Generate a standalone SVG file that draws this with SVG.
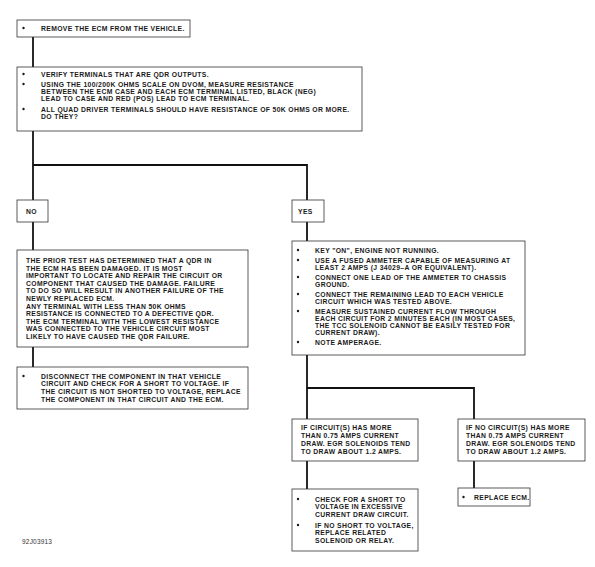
<svg xmlns="http://www.w3.org/2000/svg" width="595" height="567" viewBox="0 0 595 567">
<style>
.box{fill:#fff;stroke:#333;stroke-width:0.8}
.t{font-family:"Liberation Sans",Arial,sans-serif;font-weight:bold;font-size:6.8px;letter-spacing:0.35px;fill:#1a1a1a}
.s{font-family:"Liberation Sans",Arial,sans-serif;font-size:6.5px;letter-spacing:0.2px;fill:#333}
.c{fill:none;stroke:#111;stroke-width:1.8}
.b{fill:#1a1a1a}
</style>
<rect width="595" height="567" fill="#fff"/>
<g id="connectors">
<path class="c" d="M33,37 V67"/>
<path class="c" d="M33,131 V250"/>
<path class="c" d="M33,165 H307 V241"/>
<path class="c" d="M33,347 V367"/>
<path class="c" d="M307,355 V419"/>
<path class="c" d="M307,388 H474 V419"/>
<path class="c" d="M307,461 V489"/>
<path class="c" d="M474,461 V488"/>
</g>
<g id="n1">
<rect class="box" x="17" y="20" width="173" height="17"/>
<circle class="b" cx="23.5" cy="28" r="1.2"/>
<text class="t" x="41" y="30.5">REMOVE THE ECM FROM THE VEHICLE.</text>
</g>
<g id="n2">
<rect class="box" x="17" y="67" width="345" height="64"/>
<circle class="b" cx="23.5" cy="74" r="1.2"/>
<circle class="b" cx="23.5" cy="84" r="1.2"/>
<circle class="b" cx="23.5" cy="109" r="1.2"/>
<text class="t" x="41" y="76.5">VERIFY TERMINALS THAT ARE QDR OUTPUTS.</text>
<text class="t" x="41" y="86.5">USING THE 100/200K OHMS SCALE ON DVOM, MEASURE RESISTANCE</text>
<text class="t" x="41" y="93.5">BETWEEN THE ECM CASE AND EACH ECM TERMINAL LISTED, BLACK (NEG)</text>
<text class="t" x="41" y="100.5">LEAD TO CASE AND RED (POS) LEAD TO ECM TERMINAL.</text>
<text class="t" x="41" y="111.5">ALL QUAD DRIVER TERMINALS SHOULD HAVE RESISTANCE OF 50K OHMS OR MORE.</text>
<text class="t" x="41" y="118.5">DO THEY?</text>
</g>
<g id="no">
<rect class="box" x="17" y="200" width="31" height="22"/>
<text class="t" x="26" y="213.5">NO</text>
</g>
<g id="yes">
<rect class="box" x="292" y="200" width="32" height="22"/>
<text class="t" x="298" y="213.5">YES</text>
</g>
<g id="n3">
<rect class="box" x="17" y="250" width="231" height="97"/>
<text class="t" x="26" y="263">THE PRIOR TEST HAS DETERMINED THAT A QDR IN</text>
<text class="t" x="26" y="270.6">THE ECM HAS BEEN DAMAGED. IT IS MOST</text>
<text class="t" x="26" y="278.2">IMPORTANT TO LOCATE AND REPAIR THE CIRCUIT OR</text>
<text class="t" x="26" y="285.8">COMPONENT THAT CAUSED THE DAMAGE. FAILURE</text>
<text class="t" x="26" y="293.4">TO DO SO WILL RESULT IN ANOTHER FAILURE OF THE</text>
<text class="t" x="26" y="301">NEWLY REPLACED ECM.</text>
<text class="t" x="26" y="308.6">ANY TERMINAL WITH LESS THAN 50K OHMS</text>
<text class="t" x="26" y="316.2">RESISTANCE IS CONNECTED TO A DEFECTIVE QDR.</text>
<text class="t" x="26" y="323.8">THE ECM TERMINAL WITH THE LOWEST RESISTANCE</text>
<text class="t" x="26" y="331.4">WAS CONNECTED TO THE VEHICLE CIRCUIT MOST</text>
<text class="t" x="26" y="339">LIKELY TO HAVE CAUSED THE QDR FAILURE.</text>
</g>
<g id="n4">
<rect class="box" x="17" y="367" width="231" height="42"/>
<circle class="b" cx="23.5" cy="376" r="1.2"/>
<text class="t" x="41" y="378.5">DISCONNECT THE COMPONENT IN THAT VEHICLE</text>
<text class="t" x="41" y="386.2">CIRCUIT AND CHECK FOR A SHORT TO VOLTAGE. IF</text>
<text class="t" x="41" y="393.9">THE CIRCUIT IS NOT SHORTED TO VOLTAGE, REPLACE</text>
<text class="t" x="41" y="401.6">THE COMPONENT IN THAT CIRCUIT AND THE ECM.</text>
</g>
<g id="n5">
<rect class="box" x="292" y="241" width="233" height="114"/>
<circle class="b" cx="298" cy="250" r="1.2"/>
<circle class="b" cx="298" cy="260" r="1.2"/>
<circle class="b" cx="298" cy="277" r="1.2"/>
<circle class="b" cx="298" cy="294" r="1.2"/>
<circle class="b" cx="298" cy="311" r="1.2"/>
<circle class="b" cx="298" cy="342" r="1.2"/>
<text class="t" x="315" y="252.5">KEY "ON", ENGINE NOT RUNNING.</text>
<text class="t" x="315" y="262.5">USE A FUSED AMMETER CAPABLE OF MEASURING AT</text>
<text class="t" x="315" y="269.5">LEAST 2 AMPS (J 34029–A OR EQUIVALENT).</text>
<text class="t" x="315" y="279.5">CONNECT ONE LEAD OF THE AMMETER TO CHASSIS</text>
<text class="t" x="315" y="286.5">GROUND.</text>
<text class="t" x="315" y="296.5">CONNECT THE REMAINING LEAD TO EACH VEHICLE</text>
<text class="t" x="315" y="303.5">CIRCUIT WHICH WAS TESTED ABOVE.</text>
<text class="t" x="315" y="313.5">MEASURE SUSTAINED CURRENT FLOW THROUGH</text>
<text class="t" x="315" y="320.5">EACH CIRCUIT FOR 2 MINUTES EACH (IN MOST CASES,</text>
<text class="t" x="315" y="327.5">THE TCC SOLENOID CANNOT BE EASILY TESTED FOR</text>
<text class="t" x="315" y="334.5">CURRENT DRAW).</text>
<text class="t" x="315" y="344.5">NOTE AMPERAGE.</text>
</g>
<g id="n6">
<rect class="box" x="292" y="419" width="126" height="42"/>
<text class="t" x="301" y="430">IF CIRCUIT(S) HAS MORE</text>
<text class="t" x="301" y="438">THAN 0.75 AMPS CURRENT</text>
<text class="t" x="301" y="446">DRAW. EGR SOLENOIDS TEND</text>
<text class="t" x="301" y="454">TO DRAW ABOUT 1.2 AMPS.</text>
</g>
<g id="n7">
<rect class="box" x="458" y="419" width="127" height="42"/>
<text class="t" x="466" y="430">IF NO CIRCUIT(S) HAS MORE</text>
<text class="t" x="466" y="438">THAN 0.75 AMPS CURRENT</text>
<text class="t" x="466" y="446">DRAW. EGR SOLENOIDS TEND</text>
<text class="t" x="466" y="454">TO DRAW ABOUT 1.2 AMPS.</text>
</g>
<g id="n8">
<rect class="box" x="292" y="489" width="126" height="62"/>
<circle class="b" cx="298" cy="499" r="1.2"/>
<circle class="b" cx="298" cy="525" r="1.2"/>
<text class="t" x="315" y="501.5">CHECK FOR A SHORT TO</text>
<text class="t" x="315" y="509.2">VOLTAGE IN EXCESSIVE</text>
<text class="t" x="315" y="516.9">CURRENT DRAW CIRCUIT.</text>
<text class="t" x="315" y="527.5">IF NO SHORT TO VOLTAGE,</text>
<text class="t" x="315" y="535.2">REPLACE RELATED</text>
<text class="t" x="315" y="542.9">SOLENOID OR RELAY.</text>
</g>
<g id="n9">
<rect class="box" x="458" y="488" width="72" height="18"/>
<circle class="b" cx="463.5" cy="497" r="1.2"/>
<text class="t" x="474" y="499.5">REPLACE ECM.</text>
</g>
<text class="s" x="22" y="544">92J03913</text>
</svg>
